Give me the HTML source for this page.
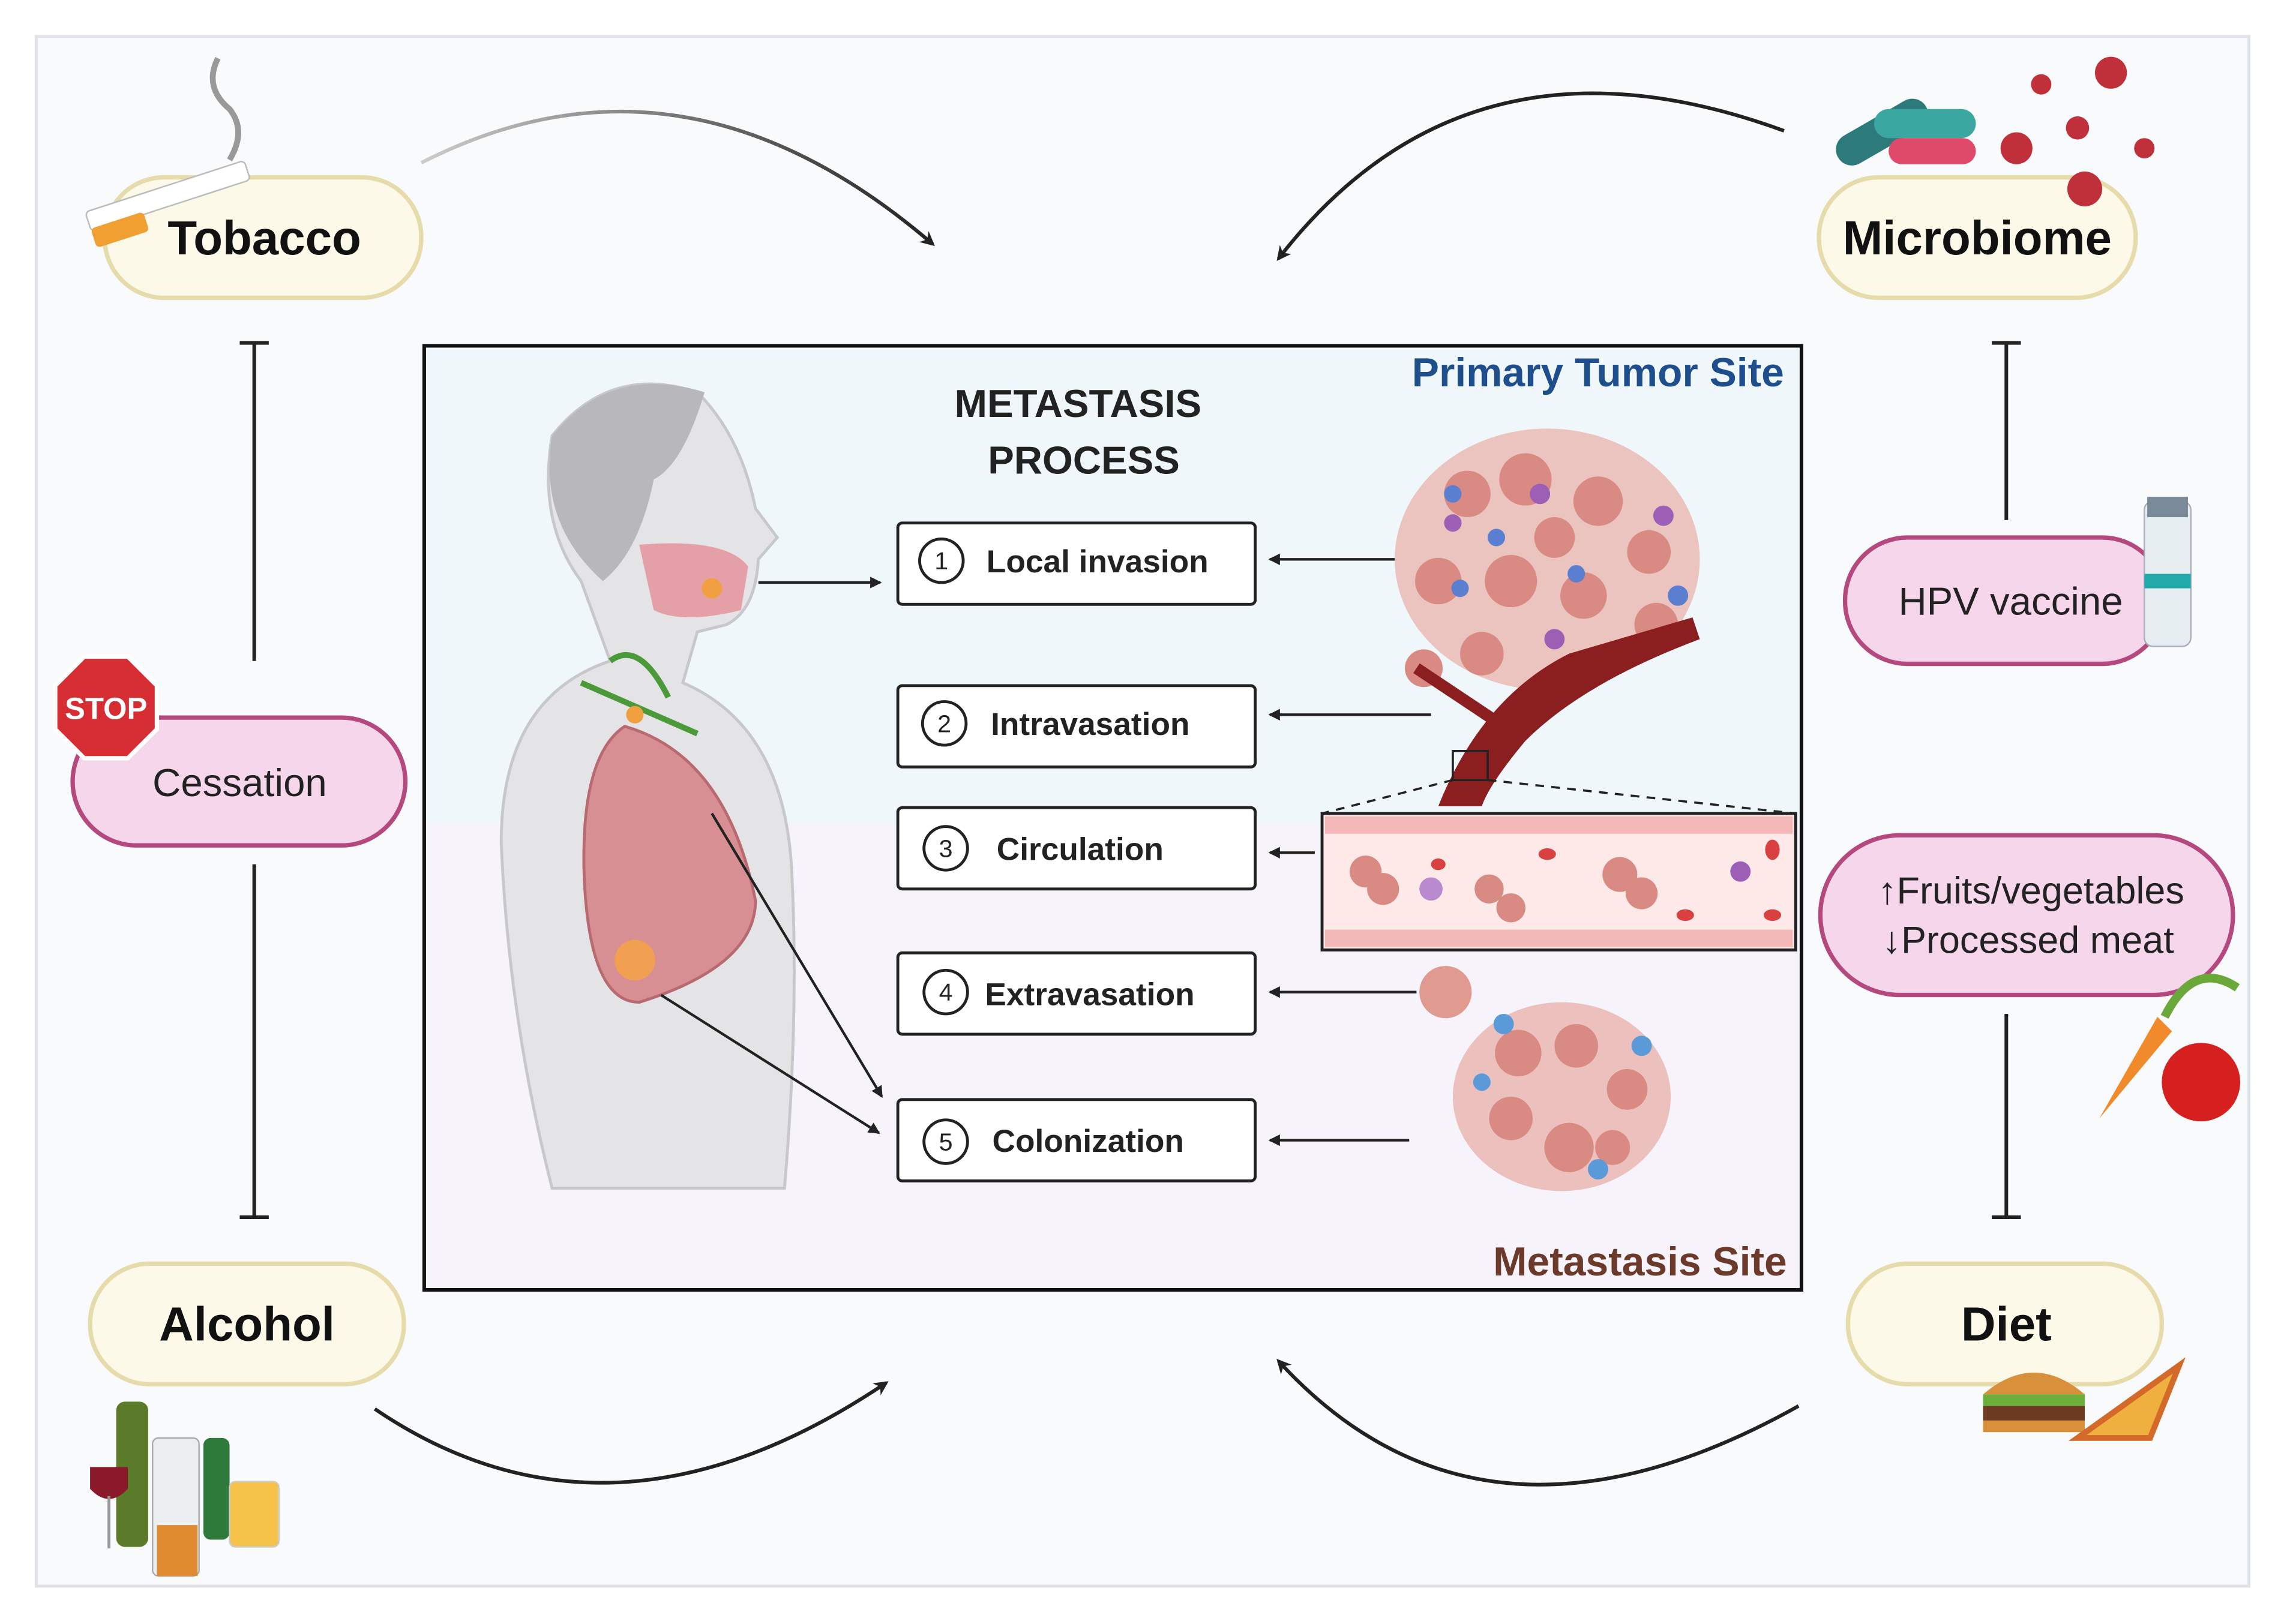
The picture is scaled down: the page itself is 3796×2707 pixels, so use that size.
<!DOCTYPE html>
<html><head><meta charset="utf-8"><style>
html,body{margin:0;padding:0;background:#fff;}
svg{display:block}
text{font-family:"Liberation Sans",sans-serif}
</style></head><body>
<svg width="3796" height="2707" viewBox="0 0 1568 1118" xmlns="http://www.w3.org/2000/svg">
<defs>
<marker id="ah" markerWidth="10" markerHeight="10" refX="8" refY="5" orient="auto" markerUnits="userSpaceOnUse"><path d="M0,0 L10,5 L0,10 L3,5 Z" fill="#222"/></marker>
<marker id="as" markerWidth="8" markerHeight="8" refX="7" refY="4" orient="auto" markerUnits="userSpaceOnUse"><path d="M0,0 L8,4 L0,8 Z" fill="#222"/></marker>
</defs>
<rect x="0" y="0" width="1568" height="1118" fill="#fff"/>
<rect x="25" y="25" width="1523" height="1067" fill="#f9fafc" stroke="#dfe2e8" stroke-width="2"/>

<!-- curved arrows -->
<g fill="none" stroke="#222" stroke-width="2.5">
<path d="M290,112 Q470,20 642,168" marker-end="url(#ah)" stroke="url(#g1)"/>
<path d="M1228,90 Q1010,10 880,178" marker-end="url(#ah)"/>
<path d="M258,970 Q420,1080 610,952" marker-end="url(#ah)"/>
<path d="M1238,968 Q1020,1090 880,937" marker-end="url(#ah)"/>
</g>
<linearGradient id="g1"><stop offset="0" stop-color="#ccc"/><stop offset="1" stop-color="#222"/></linearGradient>

<!-- inhibition lines -->
<g stroke="#222" stroke-width="2.5">
<line x1="175" y1="236" x2="175" y2="455"/><line x1="165" y1="236" x2="185" y2="236"/>
<line x1="175" y1="595" x2="175" y2="838"/><line x1="165" y1="838" x2="185" y2="838"/>
<line x1="1381" y1="236" x2="1381" y2="358"/><line x1="1371" y1="236" x2="1391" y2="236"/>
<line x1="1381" y1="698" x2="1381" y2="838"/><line x1="1371" y1="838" x2="1391" y2="838"/>
</g>

<!-- risk pills -->
<g fill="#fdf9e8" stroke="#e6dbaa" stroke-width="3">
<rect x="72" y="122" width="218" height="83" rx="41"/>
<rect x="1252" y="122" width="218" height="83" rx="41"/>
<rect x="62" y="870" width="216" height="83" rx="41"/>
<rect x="1272" y="870" width="216" height="83" rx="41"/>
</g>
<g font-weight="bold" font-size="33" text-anchor="middle" fill="#111">
<text x="182" y="175">Tobacco</text>
<text x="1361" y="175">Microbiome</text>
<text x="170" y="923">Alcohol</text>
<text x="1381" y="923">Diet</text>
</g>
<!-- prevention pills -->
<g fill="#f6d6eb" stroke="#b4487f" stroke-width="3">
<rect x="50" y="494" width="229" height="88" rx="44"/>
<rect x="1270" y="370" width="220" height="87" rx="43"/>
<rect x="1253" y="575" width="284" height="110" rx="55"/>
</g>
<g font-size="27" text-anchor="middle" fill="#222">
<text x="165" y="548">Cessation</text>
<text x="1384" y="423">HPV vaccine</text>
<text x="1398" y="622" font-size="26">↑Fruits/vegetables</text>
<text x="1396" y="656" font-size="26">↓Processed meat</text>
</g>

<!-- icons -->
<g>
<rect x="58" y="128" width="115" height="14" rx="3" fill="#fff" stroke="#bbb" transform="rotate(-18 115 135)"/>
<rect x="58" y="140" width="38" height="14" rx="3" fill="#f0a030" transform="rotate(-18 115 135)"/>
<path d="M150,40 Q140,60 158,75 Q170,90 158,110" stroke="#999" stroke-width="4" fill="none"/>
<polygon points="58,452 88,452 108,472 108,502 88,522 58,522 38,502 38,472" fill="#d62d33" stroke="#fff" stroke-width="3"/>
<text x="73" y="495" font-size="21" font-weight="bold" fill="#fff" text-anchor="middle">STOP</text>
<rect x="1476" y="345" width="32" height="100" rx="6" fill="#e6eef2" stroke="#aab"/>
<rect x="1478" y="342" width="28" height="14" fill="#7a8a99"/>
<rect x="1476" y="395" width="32" height="10" fill="#2aa"/>
<g fill="#2c7a7a"><rect x="1260" y="80" width="70" height="22" rx="11" transform="rotate(-30 1295 90)"/><rect x="1290" y="75" width="70" height="20" rx="10" fill="#3aa7a0"/><rect x="1300" y="95" width="60" height="18" rx="9" fill="#e04a6a"/></g>
<g fill="#c0303a"><circle cx="1388" cy="102" r="11"/><circle cx="1453" cy="50" r="11"/><circle cx="1405" cy="58" r="7"/><circle cx="1430" cy="88" r="8"/><circle cx="1476" cy="102" r="7"/><circle cx="1435" cy="130" r="12"/></g>
<g><rect x="80" y="965" width="22" height="100" rx="6" fill="#5b7a2a"/><rect x="105" y="990" width="32" height="95" rx="4" fill="#eaeef0" stroke="#aaa"/><rect x="108" y="1050" width="28" height="35" fill="#e08a30"/><rect x="140" y="990" width="18" height="70" rx="5" fill="#2e7a3a"/><rect x="158" y="1020" width="34" height="45" rx="4" fill="#f5c24a" stroke="#ccc"/><path d="M62,1010 h26 v15 q-13,14 -26,0z" fill="#8a1a2a"/><line x1="75" y1="1030" x2="75" y2="1066" stroke="#999" stroke-width="2"/></g>
<g><path d="M1365,960 q35,-30 70,0z" fill="#d8913a"/><rect x="1365" y="960" width="70" height="8" fill="#6bb03a"/><rect x="1365" y="968" width="70" height="10" fill="#6b3a20"/><rect x="1365" y="978" width="70" height="8" fill="#d8913a"/><path d="M1430,990 L1500,940 L1480,990 Z" fill="#f0b040" stroke="#d46a2a" stroke-width="4"/></g>
<g><path d="M1445,770 L1485,700 L1495,710 Z" fill="#f08a2a"/><circle cx="1515" cy="745" r="27" fill="#d62020"/><path d="M1490,700 q20,-40 50,-20" stroke="#6aa83a" stroke-width="6" fill="none"/></g>
</g>

<!-- central box -->
<rect x="292" y="238" width="948" height="329" fill="#eff7fb"/>
<rect x="292" y="567" width="948" height="321" fill="#f6f3fb"/>
<rect x="292" y="238" width="948" height="650" fill="none" stroke="#111" stroke-width="2.5"/>

<!-- person -->
<path d="M380,300 Q420,250 480,270 Q510,300 520,350 L535,370 L522,385 Q520,420 500,430 L480,435 L470,470 Q540,500 545,600 Q550,700 540,818 L380,818 Q350,700 345,580 Q345,480 420,455 L400,400 Q370,360 380,300Z" fill="#e4e4e6" stroke="#c8c8cc" stroke-width="2"/>
<path d="M380,300 Q420,250 485,270 Q470,320 450,330 Q440,380 415,400 Q370,360 380,300Z" fill="#b8b8bc"/>
<path d="M440,375 Q500,370 515,390 L510,420 Q470,430 450,420Z" fill="#e4a0a6"/>
<circle cx="490" cy="405" r="7" fill="#f0a040"/>
<path d="M420,455 Q440,440 460,480 M400,470 L480,505" stroke="#4a9a3a" stroke-width="4" fill="none"/>
<circle cx="437" cy="492" r="6" fill="#f0a040"/>
<path d="M430,500 Q400,520 402,600 Q405,690 440,690 Q520,665 520,620 Q500,520 430,500Z" fill="#d78f94" stroke="#b86a70" stroke-width="2"/>
<circle cx="437" cy="661" r="14" fill="#f0a050"/>
<g stroke="#222" stroke-width="1.8" fill="none">
<line x1="522" y1="401" x2="606" y2="401" marker-end="url(#as)"/>
<line x1="490" y1="560" x2="607" y2="755" marker-end="url(#as)"/>
<line x1="455" y1="685" x2="605" y2="780" marker-end="url(#as)"/>
</g>

<text x="742" y="287" font-size="27" font-weight="bold" text-anchor="middle" fill="#222">METASTASIS</text>
<text x="746" y="326" font-size="27" font-weight="bold" text-anchor="middle" fill="#222">PROCESS</text>
<text x="1228" y="266" font-size="28" font-weight="bold" text-anchor="end" fill="#1f4e8c">Primary Tumor Site</text>
<text x="1230" y="878" font-size="28" font-weight="bold" text-anchor="end" fill="#6b3a2a">Metastasis Site</text>

<!-- step boxes -->
<g fill="#fff" stroke="#222" stroke-width="2">
<rect x="618" y="360" width="246" height="56" rx="3"/>
<rect x="618" y="472" width="246" height="56" rx="3"/>
<rect x="618" y="556" width="246" height="56" rx="3"/>
<rect x="618" y="656" width="246" height="56" rx="3"/>
<rect x="618" y="757" width="246" height="56" rx="3"/>
<circle cx="648" cy="386" r="15"/><circle cx="650" cy="498" r="15"/><circle cx="651" cy="584" r="15"/><circle cx="651" cy="683" r="15"/><circle cx="651" cy="786" r="15"/>
</g>
<g font-size="17" text-anchor="middle" fill="#222"><text x="648" y="392">1</text><text x="650" y="504">2</text><text x="651" y="590">3</text><text x="651" y="689">4</text><text x="651" y="792">5</text></g>
<g font-size="22" font-weight="bold" fill="#222">
<text x="679" y="394">Local invasion</text>
<text x="682" y="506">Intravasation</text>
<text x="686" y="592">Circulation</text>
<text x="678" y="692">Extravasation</text>
<text x="683" y="793">Colonization</text>
</g>
<g stroke="#222" stroke-width="1.8">
<line x1="960" y1="385" x2="874" y2="385" marker-end="url(#as)"/>
<line x1="985" y1="492" x2="874" y2="492" marker-end="url(#as)"/>
<line x1="905" y1="587" x2="874" y2="587" marker-end="url(#as)"/>
<line x1="975" y1="683" x2="874" y2="683" marker-end="url(#as)"/>
<line x1="970" y1="785" x2="874" y2="785" marker-end="url(#as)"/>
</g>

<!-- primary tumor -->
<g>
<ellipse cx="1065" cy="385" rx="105" ry="90" fill="#eab6b0" opacity="0.8"/>
<g fill="#d98a82"><circle cx="1010" cy="340" r="16"/><circle cx="1050" cy="330" r="18"/><circle cx="1100" cy="345" r="17"/><circle cx="1135" cy="380" r="15"/><circle cx="990" cy="400" r="16"/><circle cx="1040" cy="400" r="18"/><circle cx="1090" cy="410" r="16"/><circle cx="1140" cy="430" r="15"/><circle cx="1020" cy="450" r="15"/><circle cx="980" cy="460" r="13"/><circle cx="1070" cy="370" r="14"/></g>
<g fill="#5b7fd0"><circle cx="1000" cy="340" r="6"/><circle cx="1030" cy="370" r="6"/><circle cx="1085" cy="395" r="6"/><circle cx="1155" cy="410" r="7"/><circle cx="1005" cy="405" r="6"/></g>
<g fill="#9c5fb5"><circle cx="1060" cy="340" r="7"/><circle cx="1145" cy="355" r="7"/><circle cx="1000" cy="360" r="6"/><circle cx="1070" cy="440" r="7"/></g>
<path d="M990,555 Q1020,480 1080,450 L1165,425 L1170,440 Q1090,470 1050,510 Q1025,540 1020,555Z" fill="#8b1e1e"/>
<path d="M1035,500 Q990,470 975,460" stroke="#8b1e1e" stroke-width="8" fill="none"/>
</g>
<rect x="1000" y="517" width="24" height="20" fill="none" stroke="#222" stroke-width="1.5"/>
<g stroke="#222" stroke-width="1.5" stroke-dasharray="6,5"><line x1="1000" y1="537" x2="910" y2="560"/><line x1="1024" y1="537" x2="1236" y2="560"/></g>
<rect x="910" y="560" width="326" height="94" fill="#fde9e8" stroke="#222" stroke-width="2"/>
<rect x="912" y="562" width="322" height="12" fill="#f3b9b9"/>
<rect x="912" y="640" width="322" height="12" fill="#f3b9b9"/>
<g fill="#d98a82"><circle cx="940" cy="600" r="11"/><circle cx="952" cy="612" r="11"/><circle cx="1025" cy="612" r="10"/><circle cx="1040" cy="625" r="10"/><circle cx="1115" cy="602" r="12"/><circle cx="1130" cy="615" r="11"/></g>
<g fill="#d94040"><ellipse cx="1065" cy="588" rx="6" ry="4"/><ellipse cx="1160" cy="630" rx="6" ry="4"/><ellipse cx="1220" cy="630" rx="6" ry="4"/><ellipse cx="1220" cy="585" rx="5" ry="7"/><ellipse cx="990" cy="595" rx="5" ry="4"/></g>
<circle cx="985" cy="612" r="8" fill="#b98ad0"/><circle cx="1198" cy="600" r="7" fill="#9c5fb5"/>
<!-- metastasis -->
<circle cx="995" cy="683" r="18" fill="#e09a90"/>
<ellipse cx="1075" cy="755" rx="75" ry="65" fill="#eab6b0" opacity="0.85"/>
<g fill="#d98a82"><circle cx="1045" cy="725" r="16"/><circle cx="1085" cy="720" r="15"/><circle cx="1120" cy="750" r="14"/><circle cx="1040" cy="770" r="15"/><circle cx="1080" cy="790" r="17"/><circle cx="1110" cy="790" r="12"/></g>
<g fill="#5b9ad8"><circle cx="1035" cy="705" r="7"/><circle cx="1130" cy="720" r="7"/><circle cx="1100" cy="805" r="7"/><circle cx="1020" cy="745" r="6"/></g>
</svg>
</body></html>
